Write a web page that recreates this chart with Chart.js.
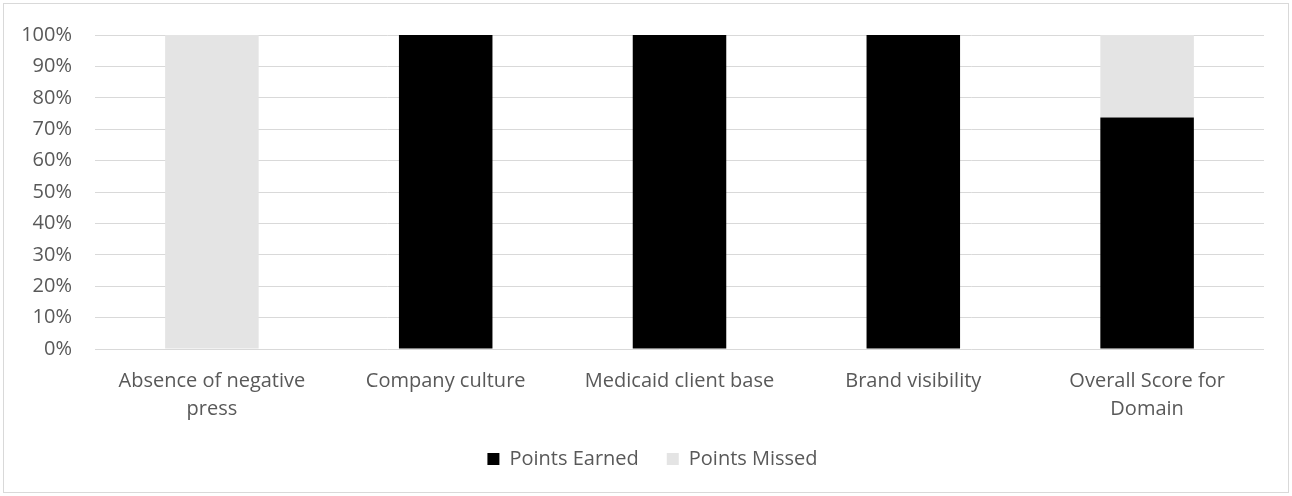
<!DOCTYPE html>
<html>
<head>
<meta charset="utf-8">
<script src="https://cdn.jsdelivr.net/npm/chart.js@4/dist/chart.umd.min.js"></script>
<style>
html,body{margin:0;padding:0;background:#fff;}
#wrap{width:1292px;height:496px;position:relative;}
</style>
</head>
<body>
<div id="wrap"><canvas id="c" width="1292" height="496"></canvas></div>
<script>
const categories = [["Absence of negative", "press"], "Company culture", "Medicaid client base", "Brand visibility", ["Overall Score for", "Domain"]];
const pointsEarned = [0, 100, 100, 100, 73.7];
const pointsMissed = [100, 0, 0, 0, 26.3];
const yTicks = [0, 10, 20, 30, 40, 50, 60, 70, 80, 90, 100];

const FONT = "'Open Sans', Lato, sans-serif";
const TEXT = "#595959";
const GRID = "#d9d9d9";

const borderPlugin = {
  id: 'outerBorder',
  beforeDraw(chart) {
    const ctx = chart.ctx;
    ctx.save();
    ctx.fillStyle = '#ffffff';
    ctx.fillRect(0, 0, chart.width, chart.height);
    ctx.strokeStyle = GRID;
    ctx.lineWidth = 1;
    ctx.strokeRect(3.5, 3.5, chart.width - 7, chart.height - 7);
    ctx.restore();
  },
  afterLayout(chart) {
    if (chart.legend) {
      chart.legend.left += 18;
      chart.legend.right += 18;
    }
  }
};

new Chart(document.getElementById('c'), {
  type: 'bar',
  data: {
    labels: categories,
    datasets: [
      { label: 'Points Earned', data: pointsEarned, backgroundColor: '#000000', barPercentage: 0.4, categoryPercentage: 1.0 },
      { label: 'Points Missed', data: pointsMissed, backgroundColor: '#e4e4e4', barPercentage: 0.4, categoryPercentage: 1.0 }
    ]
  },
  options: {
    responsive: false,
    animation: false,
    layout: { padding: { left: 5, right: 28, top: 29, bottom: 17 } },
    plugins: {
      tooltip: { enabled: false },
      legend: {
        position: 'bottom',
        labels: {
          boxWidth: 12, boxHeight: 12, padding: 28,
          color: TEXT,
          font: { family: FONT, size: 20 }
        }
      }
    },
    scales: {
      x: {
        stacked: true,
        grid: { display: false, drawTicks: false },
        border: { display: false },
        ticks: { color: TEXT, font: { family: FONT, size: 20, lineHeight: 1.4 }, padding: 18, maxRotation: 0, autoSkip: false },
        afterFit(scale) { scale.height = 72; }
      },
      y: {
        stacked: true,
        min: 0, max: 100,
        afterBuildTicks(scale) { scale.ticks = yTicks.map(v => ({ value: v })); },
        grid: { color: GRID, lineWidth: 1, drawTicks: false },
        border: { display: false },
        ticks: { color: TEXT, font: { family: FONT, size: 20 }, padding: 23, callback: v => v + '%' },
        afterFit(scale) { scale.width = 90; }
      }
    }
  },
  plugins: [borderPlugin]
});
</script>
</body>
</html>
